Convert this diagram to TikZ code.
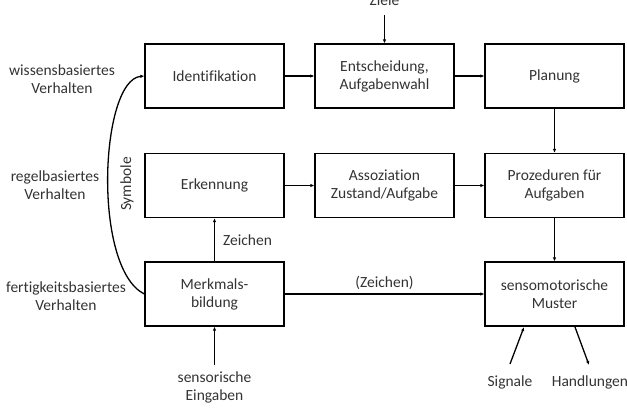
\documentclass[tikz,border=0pt]{standalone}
\usepackage{fontspec}
\setmainfont{Carlito}[Ligatures=NoCommon]
\usetikzlibrary{arrows.meta}
\definecolor{txt}{HTML}{333333}
\begin{document}
\begin{tikzpicture}[x=1pt,y=-1pt,
  font=\fontsize{15.5}{18}\selectfont,
  box/.style={draw=black,line width=1.3pt,minimum width=139pt,minimum height=64pt,inner sep=0pt,text=txt,align=center},
  lbl/.style={text=txt,align=center,inner sep=0pt},
  arr/.style={line width=1.3pt,-{Latex[length=4pt,width=3.5pt]}},
  ln/.style={line width=1.3pt}]
\useasboundingbox (0,0) rectangle (627,408);
\node[box] (ident) at (214.5,76) {Identifikation};
\node[box] (entsch) at (384.5,76) {Entscheidung,\\Aufgabenwahl};
\node[box] (plan) at (554.5,76) {Planung};
\node[box] (erk) at (214.5,185.5) {Erkennung};
\node[box] (asso) at (384.5,185.5) {Assoziation\\Zustand/Aufgabe};
\node[box] (proz) at (554.5,185.5) {Prozeduren für\\Aufgaben};
\node[box] (merk) at (214.5,294) {Merkmals-\\bildung};
\node[box] (senso) at (554.5,294) {sensomotorische\\Muster};

\node[lbl,anchor=base] (ziele) at (384.5,5) {Ziele};
\coordinate (zs) at (384.5,15);
\draw[arr] (zs) -- (entsch.north);

\node[lbl] (wiss) at (62,79) {wissensbasiertes\\Verhalten};
\node[lbl] (regel) at (55,185) {regelbasiertes\\Verhalten};
\node[lbl] (fert) at (66,296) {fertigkeitsbasiertes\\Verhalten};

\draw[arr] (ident) -- (entsch);
\draw[arr] (entsch) -- (plan);
\draw[arr] (erk) -- (asso);
\draw[arr] (asso) -- (proz);
\draw[arr] (plan) -- (proz);
\draw[arr] (proz) -- (senso);
\draw[arr] (merk) -- node[lbl,right=8pt,pos=0.5] (zeichen) {Zeichen} (erk);
\draw[arr] (merk) -- node[lbl,above=4pt] (zeichen2) {(Zeichen)} (senso);

\draw[ln,{Latex[length=4pt,width=3.5pt]}-] (ident.west) .. controls (100,80) and (92,268) .. (merk.west);
\node[lbl,rotate=90] (symb) at (127,184) {Symbole};

\node[lbl] (eing) at (214.5,387) {sensorische\\Eingaben};
\coordinate (es) at (214.5,365);
\draw[arr] (es) -- (merk.south);

\node[lbl] (sig) at (510,382) {Signale};
\node[lbl] (hand) at (590,382) {Handlungen};
\coordinate (ss) at (510,364);
\coordinate (se) at (524,327);
\coordinate (hs) at (575,327);
\coordinate (he) at (589,365);
\draw[arr] (ss) -- (se);
\draw[arr] (hs) -- (he);
\end{tikzpicture}
\end{document}
